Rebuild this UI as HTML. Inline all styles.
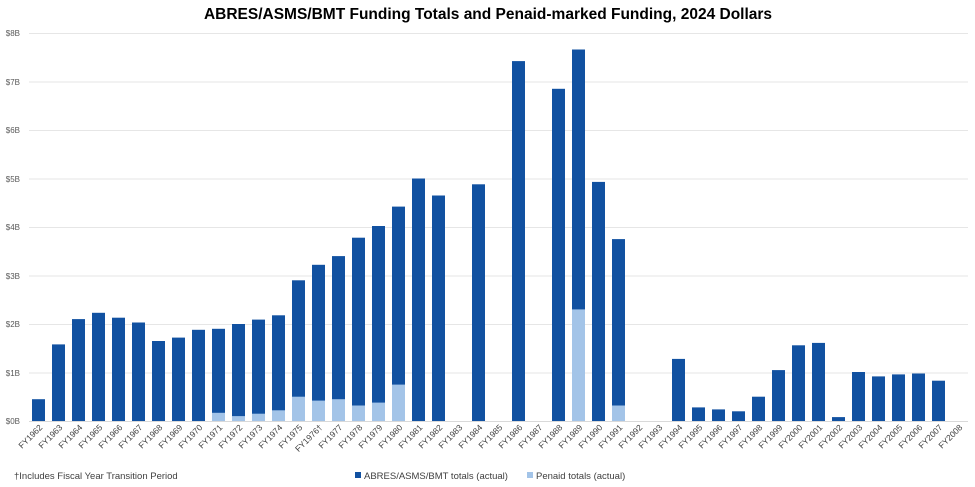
<!DOCTYPE html>
<html><head><meta charset="utf-8"><style>
html,body{margin:0;padding:0;background:#fff;}
svg{display:block;font-family:"Liberation Sans",sans-serif;}
.y{font-size:8px;fill:#595959;text-anchor:end}
.x{font-size:8.5px;fill:#404040;text-anchor:end}
.d{fill:#1151a1}.l{fill:#a3c4e8}
</style></head><body>
<svg width="975" height="487" viewBox="0 0 975 487">
<text x="488" y="19" text-anchor="middle" font-size="15.5" font-weight="bold" fill="#000">ABRES/ASMS/BMT Funding Totals and Penaid-marked Funding, 2024 Dollars</text>
<g stroke="#e6e6e6" stroke-width="1">
<line x1="29" x2="968" y1="33.5" y2="33.5"/><line x1="29" x2="968" y1="82" y2="82"/><line x1="29" x2="968" y1="130.5" y2="130.5"/><line x1="29" x2="968" y1="179" y2="179"/><line x1="29" x2="968" y1="227.5" y2="227.5"/><line x1="29" x2="968" y1="276" y2="276"/><line x1="29" x2="968" y1="324.5" y2="324.5"/><line x1="29" x2="968" y1="373" y2="373"/>
</g>
<line x1="29" x2="968" y1="421.5" y2="421.5" stroke="#d9d9d9"/>
<text class="y" x="20" y="36">$8B</text><text class="y" x="20" y="85">$7B</text><text class="y" x="20" y="133">$6B</text><text class="y" x="20" y="182">$5B</text><text class="y" x="20" y="230">$4B</text><text class="y" x="20" y="279">$3B</text><text class="y" x="20" y="327">$2B</text><text class="y" x="20" y="376">$1B</text><text class="y" x="20" y="424">$0B</text>
<g class="d">
<rect x="32" y="399.2" width="13" height="21.8"/>
<rect x="52" y="344.4" width="13" height="76.6"/>
<rect x="72" y="319.1" width="13" height="101.9"/>
<rect x="92" y="312.8" width="13" height="108.2"/>
<rect x="112" y="317.7" width="13" height="103.3"/>
<rect x="132" y="322.5" width="13" height="98.5"/>
<rect x="152" y="341" width="13" height="80"/>
<rect x="172" y="337.6" width="13" height="83.4"/>
<rect x="192" y="329.8" width="13" height="91.2"/>
<rect x="212" y="328.8" width="13" height="92.2"/>
<rect x="232" y="324" width="13" height="97"/>
<rect x="252" y="319.6" width="13" height="101.4"/>
<rect x="272" y="315.3" width="13" height="105.7"/>
<rect x="292" y="280.3" width="13" height="140.7"/>
<rect x="312" y="264.8" width="13" height="156.2"/>
<rect x="332" y="256.1" width="13" height="164.9"/>
<rect x="352" y="237.7" width="13" height="183.3"/>
<rect x="372" y="226" width="13" height="195"/>
<rect x="392" y="206.6" width="13" height="214.4"/>
<rect x="412" y="178.5" width="13" height="242.5"/>
<rect x="432" y="195.5" width="13" height="225.5"/>
<rect x="472" y="184.3" width="13" height="236.7"/>
<rect x="512" y="61.1" width="13" height="359.9"/>
<rect x="552" y="88.8" width="13" height="332.2"/>
<rect x="572" y="49.5" width="13" height="371.5"/>
<rect x="592" y="181.9" width="13" height="239.1"/>
<rect x="612" y="239.1" width="13" height="181.9"/>
<rect x="672" y="358.9" width="13" height="62.1"/>
<rect x="692" y="407.4" width="13" height="13.6"/>
<rect x="712" y="409.4" width="13" height="11.6"/>
<rect x="732" y="411.3" width="13" height="9.7"/>
<rect x="752" y="396.7" width="13" height="24.3"/>
<rect x="772" y="370.1" width="13" height="50.9"/>
<rect x="792" y="345.3" width="13" height="75.7"/>
<rect x="812" y="342.9" width="13" height="78.1"/>
<rect x="832" y="417.1" width="13" height="3.9"/>
<rect x="852" y="372" width="13" height="49"/>
<rect x="872" y="376.4" width="13" height="44.6"/>
<rect x="892" y="374.4" width="13" height="46.6"/>
<rect x="912" y="373.5" width="13" height="47.5"/>
<rect x="932" y="380.7" width="13" height="40.3"/>
</g>
<g class="l">
<rect x="212" y="412.8" width="13" height="8.2"/>
<rect x="232" y="416.1" width="13" height="4.9"/>
<rect x="252" y="413.7" width="13" height="7.3"/>
<rect x="272" y="410.3" width="13" height="10.7"/>
<rect x="292" y="396.7" width="13" height="24.3"/>
<rect x="312" y="400.6" width="13" height="20.4"/>
<rect x="332" y="399.2" width="13" height="21.8"/>
<rect x="352" y="405.5" width="13" height="15.5"/>
<rect x="372" y="402.6" width="13" height="18.4"/>
<rect x="392" y="384.6" width="13" height="36.4"/>
<rect x="572" y="309.4" width="13" height="111.6"/>
<rect x="612" y="405.5" width="13" height="15.5"/>
</g>
<g class="x">
<text transform="translate(43,428) rotate(-45)">FY1962</text>
<text transform="translate(63,428) rotate(-45)">FY1963</text>
<text transform="translate(83,428) rotate(-45)">FY1964</text>
<text transform="translate(103,428) rotate(-45)">FY1965</text>
<text transform="translate(123,428) rotate(-45)">FY1966</text>
<text transform="translate(143,428) rotate(-45)">FY1967</text>
<text transform="translate(163,428) rotate(-45)">FY1968</text>
<text transform="translate(183,428) rotate(-45)">FY1969</text>
<text transform="translate(203,428) rotate(-45)">FY1970</text>
<text transform="translate(223,428) rotate(-45)">FY1971</text>
<text transform="translate(243,428) rotate(-45)">FY1972</text>
<text transform="translate(263,428) rotate(-45)">FY1973</text>
<text transform="translate(283,428) rotate(-45)">FY1974</text>
<text transform="translate(303,428) rotate(-45)">FY1975</text>
<text transform="translate(323,428) rotate(-45)">FY1976†</text>
<text transform="translate(343,428) rotate(-45)">FY1977</text>
<text transform="translate(363,428) rotate(-45)">FY1978</text>
<text transform="translate(383,428) rotate(-45)">FY1979</text>
<text transform="translate(403,428) rotate(-45)">FY1980</text>
<text transform="translate(423,428) rotate(-45)">FY1981</text>
<text transform="translate(443,428) rotate(-45)">FY1982</text>
<text transform="translate(463,428) rotate(-45)">FY1983</text>
<text transform="translate(483,428) rotate(-45)">FY1984</text>
<text transform="translate(503,428) rotate(-45)">FY1985</text>
<text transform="translate(523,428) rotate(-45)">FY1986</text>
<text transform="translate(543,428) rotate(-45)">FY1987</text>
<text transform="translate(563,428) rotate(-45)">FY1988</text>
<text transform="translate(583,428) rotate(-45)">FY1989</text>
<text transform="translate(603,428) rotate(-45)">FY1990</text>
<text transform="translate(623,428) rotate(-45)">FY1991</text>
<text transform="translate(643,428) rotate(-45)">FY1992</text>
<text transform="translate(663,428) rotate(-45)">FY1993</text>
<text transform="translate(683,428) rotate(-45)">FY1994</text>
<text transform="translate(703,428) rotate(-45)">FY1995</text>
<text transform="translate(723,428) rotate(-45)">FY1996</text>
<text transform="translate(743,428) rotate(-45)">FY1997</text>
<text transform="translate(763,428) rotate(-45)">FY1998</text>
<text transform="translate(783,428) rotate(-45)">FY1999</text>
<text transform="translate(803,428) rotate(-45)">FY2000</text>
<text transform="translate(823,428) rotate(-45)">FY2001</text>
<text transform="translate(843,428) rotate(-45)">FY2002</text>
<text transform="translate(863,428) rotate(-45)">FY2003</text>
<text transform="translate(883,428) rotate(-45)">FY2004</text>
<text transform="translate(903,428) rotate(-45)">FY2005</text>
<text transform="translate(923,428) rotate(-45)">FY2006</text>
<text transform="translate(943,428) rotate(-45)">FY2007</text>
<text transform="translate(963,428) rotate(-45)">FY2008</text>
</g>
<text x="14" y="479" font-size="9.5" fill="#404040">†Includes Fiscal Year Transition Period</text>
<rect x="355" y="472" width="6" height="6" class="d"/>
<text x="364" y="479" font-size="9.5" fill="#404040">ABRES/ASMS/BMT totals (actual)</text>
<rect x="527" y="472" width="6" height="6" class="l"/>
<text x="536" y="479" font-size="9.5" fill="#404040">Penaid totals (actual)</text>
</svg>
</body></html>
